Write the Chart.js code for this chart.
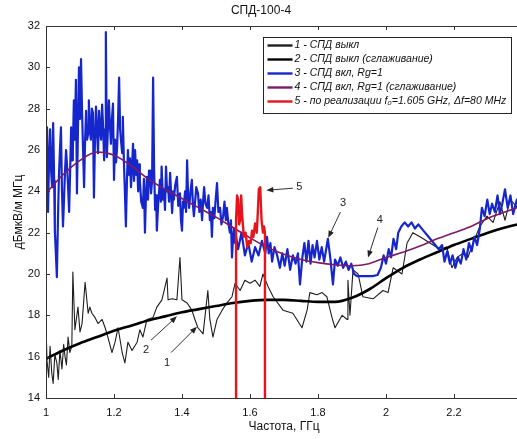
<!DOCTYPE html>
<html>
<head>
<meta charset="utf-8">
<title>СПД-100-4</title>
<script src="https://cdn.jsdelivr.net/npm/chart.js@4.4.1/dist/chart.umd.min.js"></script>
<style>
  html, body { margin: 0; padding: 0; background: #fff; overflow: hidden; }
  #wrap { width: 566px; height: 439px; }
</style>
</head>
<body>
<div id="wrap"><canvas id="spd-chart" width="566" height="439"></canvas></div>
<script>
// 1 - СПД выкл (raw)
const offFreq = [1.000, 1.003, 1.008, 1.012, 1.017, 1.021, 1.026, 1.032, 1.036, 1.041, 1.047, 1.052, 1.056, 1.060, 1.065, 1.070, 1.076,
    1.079, 1.085, 1.094, 1.100, 1.106, 1.115, 1.124, 1.129, 1.135, 1.144, 1.153, 1.165, 1.174, 1.182, 1.194, 1.203, 1.212, 1.224,
    1.232, 1.241, 1.253, 1.268, 1.276, 1.285, 1.297, 1.315, 1.326, 1.341, 1.356, 1.359, 1.371, 1.385, 1.394, 1.400, 1.415, 1.429,
    1.438, 1.447, 1.462, 1.476, 1.482, 1.491, 1.503, 1.518, 1.532, 1.547, 1.556, 1.571, 1.585, 1.600, 1.615, 1.629, 1.638, 1.653,
    1.668, 1.697, 1.726, 1.753, 1.768, 1.776, 1.797, 1.812, 1.826, 1.841, 1.850, 1.871, 1.886, 1.888, 1.894, 1.903, 1.918, 1.932,
    1.962, 1.991, 2.006, 2.021, 2.047, 2.062, 2.079, 2.100, 2.129, 2.159, 2.179, 2.194, 2.209, 2.226, 2.241, 2.256, 2.276, 2.297,
    2.315, 2.335, 2.350, 2.365, 2.385, 2.400];
const offVals = [17.5, 15.8, 15.0, 16.5, 15.2, 14.7, 16.1, 15.7, 14.9, 16.3, 15.4, 16.6, 16.0, 15.6, 16.95, 16.2, 16.5,
    20.1, 17.3, 18.4, 17.2, 17.6, 19.6, 18.1, 18.4, 18.1, 17.9, 17.6, 17.8, 17.4, 16.95, 16.2, 16.7, 17.4, 16.2,
    15.7, 16.7, 16.3, 16.7, 17.3, 16.95, 17.8, 17.9, 18.4, 18.75, 19.8, 18.75, 18.8, 18.75, 20.8, 18.75, 18.6, 18.25,
    17.8, 17.4, 17.1, 19.2, 17.8, 16.95, 17.8, 18.25, 18.6, 18.9, 19.55, 19.2, 19.7, 19.55, 19.7, 19.4, 20.0, 19.4,
    18.9, 18.25, 18.1, 17.4, 18.25, 19.1, 19.0, 19.1, 18.9, 17.9, 17.4, 18.0, 17.8, 19.7, 18.0, 20.2, 20.0, 18.9,
    18.8, 19.2, 19.1, 20.3, 20.0, 21.5, 22.0, 21.8, 21.5, 21.2, 21.3, 20.3, 20.8, 21.0, 20.8, 21.5, 22.3, 22.8,
    22.5, 23.5, 22.6, 23.6, 23.25, 23.0];

// 2 - СПД выкл (сглаживание)
const offSmoothFreq = [1.00, 1.05, 1.10, 1.15, 1.20, 1.25, 1.30, 1.35, 1.40, 1.45, 1.50, 1.55, 1.60, 1.65, 1.70,
    1.75, 1.80, 1.85, 1.90, 1.95, 2.00, 2.05, 2.10, 2.15, 2.20, 2.25, 2.30, 2.35, 2.40];
const offSmoothVals = [15.9, 16.3, 16.65, 16.95, 17.25, 17.5, 17.75, 17.95, 18.15, 18.3, 18.45, 18.6, 18.7, 18.75, 18.75,
    18.7, 18.65, 18.65, 18.85, 19.25, 19.8, 20.3, 20.7, 21.05, 21.4, 21.7, 22.0, 22.25, 22.45];

// 3 - СПД вкл, Rg=1 (raw)
const onFreq = [1.000, 1.003, 1.006, 1.009, 1.012, 1.015, 1.018, 1.021, 1.024, 1.026, 1.029, 1.032, 1.035, 1.038, 1.041,
    1.044, 1.047, 1.050, 1.053, 1.056, 1.059, 1.062, 1.065, 1.068, 1.071, 1.074, 1.077, 1.079, 1.082, 1.085, 1.088, 1.091,
    1.094, 1.097, 1.100, 1.103, 1.106, 1.109, 1.112, 1.115, 1.118, 1.121, 1.124, 1.126, 1.129, 1.132, 1.135, 1.138, 1.141,
    1.144, 1.147, 1.150, 1.153, 1.156, 1.159, 1.162, 1.165, 1.168, 1.171, 1.174, 1.176, 1.179, 1.182, 1.185, 1.188, 1.191,
    1.194, 1.197, 1.200, 1.203, 1.206, 1.209, 1.212, 1.215, 1.218, 1.221, 1.224, 1.226, 1.229, 1.232, 1.235, 1.238, 1.241,
    1.244, 1.247, 1.250, 1.253, 1.256, 1.259, 1.262, 1.265, 1.268, 1.271, 1.274, 1.276, 1.280, 1.285, 1.288, 1.291, 1.294,
    1.297, 1.300, 1.303, 1.306, 1.309, 1.312, 1.315, 1.318, 1.321, 1.324, 1.326, 1.330, 1.335, 1.338, 1.340, 1.344, 1.347,
    1.350, 1.353, 1.356, 1.359, 1.362, 1.365, 1.368, 1.371, 1.374, 1.376, 1.380, 1.385, 1.389, 1.394, 1.397, 1.400, 1.403,
    1.405, 1.409, 1.412, 1.415, 1.418, 1.421, 1.425, 1.429, 1.432, 1.435, 1.438, 1.442, 1.447, 1.451, 1.455, 1.459, 1.462,
    1.465, 1.469, 1.474, 1.478, 1.482, 1.485, 1.488, 1.491, 1.495, 1.499, 1.503, 1.507, 1.512, 1.516, 1.521, 1.525, 1.529,
    1.532, 1.536, 1.541, 1.544, 1.547, 1.550, 1.553, 1.556, 1.559, 1.565, 1.575, 1.585, 1.595, 1.605, 1.615, 1.625, 1.635,
    1.645, 1.650, 1.655, 1.660, 1.665, 1.672, 1.680, 1.688, 1.695, 1.702, 1.710, 1.718, 1.726, 1.734, 1.741, 1.747, 1.754,
    1.760, 1.766, 1.772, 1.778, 1.784, 1.790, 1.797, 1.804, 1.811, 1.818, 1.824, 1.829, 1.836, 1.844, 1.850, 1.858, 1.866,
    1.874, 1.882, 1.890, 1.898, 1.906, 1.915, 1.930, 1.945, 1.960, 1.975, 1.985, 1.993, 2.000, 2.008, 2.015, 2.022, 2.030,
    2.036, 2.045, 2.055, 2.065, 2.075, 2.085, 2.095, 2.110, 2.125, 2.140, 2.155, 2.165, 2.172, 2.180, 2.188, 2.196, 2.204,
    2.212, 2.220, 2.228, 2.236, 2.244, 2.252, 2.260, 2.268, 2.276, 2.282, 2.290, 2.298, 2.305, 2.312, 2.320, 2.328, 2.335,
    2.342, 2.350, 2.358, 2.366, 2.374, 2.385, 2.400];
const onVals = [25.2, 27.1, 23.0, 25.5, 27.0, 25.0, 24.2, 27.3, 24.5, 22.1, 21.0, 19.85, 22.5, 24.7, 26.0,
    27.1, 24.0, 22.3, 23.6, 25.0, 26.0, 25.2, 24.2, 23.0, 25.0, 27.1, 25.5, 26.0, 28.4, 26.5, 29.4, 23.9,
    27.0, 30.0, 27.5, 30.4, 27.9, 26.0, 24.2, 26.5, 27.9, 26.5, 26.8, 28.4, 27.0, 26.5, 28.0, 27.8, 23.7,
    26.5, 28.1, 26.9, 25.85, 27.9, 27.0, 26.5, 28.2, 27.1, 25.5, 27.0, 31.7, 25.65, 27.0, 28.4, 27.2, 26.3,
    27.5, 28.25, 24.55, 26.5, 25.4, 26.1, 27.5, 29.5, 27.0, 26.4, 25.85, 27.6, 25.5, 24.0, 22.3, 24.5, 26.0,
    24.8, 25.6, 24.2, 25.2, 26.3, 24.5, 26.0, 24.8, 25.5, 24.0, 25.3, 24.55, 23.5, 23.2, 24.6, 22.0, 23.8,
    24.7, 23.6, 25.0, 25.0, 23.9, 24.5, 29.5, 25.0, 23.1, 23.8, 22.1, 23.4, 24.55, 23.5, 25.2, 23.6, 24.1,
    23.1, 25.2, 24.0, 24.2, 23.5, 24.9, 23.9, 22.95, 24.0, 23.6, 24.3, 24.7, 23.3, 23.9, 22.6, 22.1, 23.5,
    23.2, 24.0, 23.0, 25.5, 23.8, 23.2, 24.0, 24.55, 23.4, 22.8, 23.4, 24.2, 23.9, 23.0, 23.6, 22.6, 23.5,
    24.2, 23.4, 23.2, 23.8, 22.6, 23.0, 21.8, 23.2, 22.7, 23.6, 24.4, 23.0, 23.2, 22.4, 22.8, 23.5, 22.6,
    23.2, 22.5, 22.0, 22.6, 20.8, 21.7, 22.2, 21.5, 21.8, 21.2, 22.0, 20.9, 21.5, 20.6, 21.3, 20.9, 21.6,
    21.0, 21.8, 21.0, 21.5, 20.6, 21.3, 20.9, 20.3, 21.0, 20.4, 21.2, 20.2, 20.9, 20.5, 21.0, 19.5, 20.8,
    21.5, 20.6, 21.6, 20.5, 21.4, 20.8, 21.6, 20.7, 21.3, 20.6, 21.2, 21.7, 20.8, 19.5, 20.7, 20.4, 20.8,
    20.3, 20.6, 20.2, 20.5, 20.0, 19.9, 19.9, 19.9, 19.9, 19.95, 20.3, 20.9, 20.5, 21.2, 20.8, 21.7, 21.2,
    22.0, 22.3, 22.5, 22.3, 22.5, 22.2, 22.4, 22.1, 21.8, 21.5, 21.2, 21.4, 20.6, 21.1, 20.5, 20.9, 20.3,
    20.8, 20.5, 21.2, 20.7, 21.5, 21.1, 21.8, 21.4, 22.2, 23.2, 22.8, 23.6, 22.9, 23.4, 23.0, 23.8, 22.9,
    23.4, 24.1, 23.2, 23.8, 22.9, 23.6, 23.2];

// 4 - СПД вкл, Rg=1 (сглаживание)
const onSmoothFreq = [1.00, 1.05, 1.10, 1.15, 1.20, 1.25, 1.30, 1.35, 1.40, 1.45, 1.50, 1.55, 1.60, 1.65, 1.70,
    1.75, 1.80, 1.85, 1.90, 1.95, 2.00, 2.05, 2.10, 2.15, 2.20, 2.25, 2.30, 2.35, 2.40];
const onSmoothVals = [23.9, 24.8, 25.5, 25.9, 25.75, 25.25, 24.6, 24.1, 23.65, 23.2, 22.75, 22.25, 21.75, 21.3, 20.95,
    20.7, 20.55, 20.45, 20.4, 20.5, 20.8, 21.05, 21.35, 21.7, 22.0, 22.3, 22.7, 23.0, 23.3];

// 5 - по реализации, f0 = 1.605 GHz, df = 80 MHz (window edges drop to the axis)
const windowFreq = [1.559, 1.559, 1.562, 1.565, 1.568, 1.571, 1.574, 1.577, 1.582, 1.587, 1.592, 1.597, 1.602,
    1.606, 1.610, 1.615, 1.620, 1.623, 1.626, 1.630, 1.634, 1.638, 1.641, 1.644, 1.644];
const windowVals = [14, 22.6, 23.8, 23.6, 22.4, 22.6, 23.8, 22.8, 21.8, 22.0, 21.3, 21.6, 21.5,
    22.1, 21.8, 22.45, 22.0, 23.0, 24.1, 24.2, 22.6, 22.0, 22.3, 22.0, 14];

const xTicks = [1, 1.2, 1.4, 1.6, 1.8, 2, 2.2];
const yTicks = [14, 16, 18, 20, 22, 24, 26, 28, 30, 32];

// numbered callouts: label position, arrow start, arrow tip (in data units)
const callouts = [
    { text: '1', at: [1.356, 15.7], from: [1.368, 16.2], to: [1.444, 17.45] },
    { text: '2', at: [1.294, 16.3], from: [1.309, 16.8], to: [1.385, 17.95] },
    { text: '3', at: [1.874, 23.45], from: [1.866, 23.0], to: [1.830, 21.75] },
    { text: '4', at: [1.982, 22.6], from: [1.976, 22.25], to: [1.947, 20.8] },
    { text: '5', at: [1.745, 24.2], from: [1.726, 24.15], to: [1.648, 24.05] }
];

function zip(xs, ys) {
    return xs.map((x, i) => ({ x: x, y: ys[i] }));
}

const FONT = '"Liberation Sans", Arial, sans-serif';

function drawArrow(ctx, x1, y1, x2, y2) {
    const a = Math.atan2(y2 - y1, x2 - x1);
    const len = 7, w = 2.8;
    ctx.beginPath();
    ctx.moveTo(x1, y1);
    ctx.lineTo(x2 - 4 * Math.cos(a), y2 - 4 * Math.sin(a));
    ctx.stroke();
    ctx.beginPath();
    ctx.moveTo(x2, y2);
    ctx.lineTo(x2 - len * Math.cos(a) + w * Math.sin(a), y2 - len * Math.sin(a) - w * Math.cos(a));
    ctx.lineTo(x2 - len * Math.cos(a) - w * Math.sin(a), y2 - len * Math.sin(a) + w * Math.cos(a));
    ctx.closePath();
    ctx.fill();
}

// frame with inward tick marks, matlab style
const framePlugin = {
    id: 'frame',
    afterDatasetsDraw(chart) {
        const { ctx, chartArea: ca, scales } = chart;
        ctx.save();
        ctx.strokeStyle = '#333';
        ctx.lineWidth = 1;
        ctx.strokeRect(Math.round(ca.left) + 0.5, Math.round(ca.top) + 0.5, ca.right - ca.left, ca.bottom - ca.top);
        ctx.beginPath();
        xTicks.forEach(v => {
            const px = Math.round(scales.x.getPixelForValue(v)) + 0.5;
            ctx.moveTo(px, ca.bottom); ctx.lineTo(px, ca.bottom - 4);
            ctx.moveTo(px, ca.top); ctx.lineTo(px, ca.top + 4);
        });
        yTicks.forEach(v => {
            const py = Math.round(scales.y.getPixelForValue(v)) + 0.5;
            ctx.moveTo(ca.left, py); ctx.lineTo(ca.left + 4, py);
        });
        ctx.stroke();
        ctx.restore();
    }
};

const calloutPlugin = {
    id: 'callouts',
    afterDatasetsDraw(chart) {
        const { ctx, scales } = chart;
        const px = p => [scales.x.getPixelForValue(p[0]), scales.y.getPixelForValue(p[1])];
        ctx.save();
        ctx.strokeStyle = '#333';
        ctx.fillStyle = '#222';
        ctx.lineWidth = 1;
        ctx.font = '11px ' + FONT;
        ctx.textAlign = 'center';
        ctx.textBaseline = 'middle';
        callouts.forEach(c => {
            const a = px(c.from), b = px(c.to), t = px(c.at);
            drawArrow(ctx, a[0], a[1], b[0], b[1]);
            ctx.fillText(c.text, t[0], t[1]);
        });
        ctx.restore();
    }
};

// boxed legend in the upper right of the plot
const boxLegendPlugin = {
    id: 'boxLegend',
    afterDraw(chart) {
        const { ctx, chartArea: ca } = chart;
        const x = Math.round(ca.left) + 217.5, y = Math.round(ca.top) + 11.5, w = 248, h = 76;
        ctx.save();
        ctx.fillStyle = '#fff';
        ctx.fillRect(x, y, w, h);
        ctx.strokeStyle = '#222';
        ctx.lineWidth = 1;
        ctx.strokeRect(x, y, w, h);
        ctx.font = 'italic 10.5px ' + FONT;
        ctx.textBaseline = 'middle';
        chart.data.datasets.forEach((ds, i) => {
            const ly = y + 8 + i * 14;
            ctx.strokeStyle = ds.borderColor;
            ctx.lineWidth = 2.4;
            ctx.beginPath();
            ctx.moveTo(x + 4, ly);
            ctx.lineTo(x + 29, ly);
            ctx.stroke();
            ctx.fillStyle = '#111';
            ctx.fillText(ds.label, x + 31, ly);
        });
        ctx.restore();
    }
};

new Chart(document.getElementById('spd-chart'), {
    type: 'line',
    data: {
        datasets: [
            {
                label: '1 - СПД выкл',
                data: zip(offFreq, offVals),
                borderColor: '#1e1e1e',
                borderWidth: 1.1,
                order: 4
            },
            {
                label: '2 - СПД выкл (сглаживание)',
                data: zip(offSmoothFreq, offSmoothVals),
                borderColor: '#000',
                borderWidth: 2.6,
                cubicInterpolationMode: 'monotone',
                order: 3
            },
            {
                label: '3 - СПД вкл, Rg=1',
                data: zip(onFreq, onVals),
                borderColor: 'rgb(22, 38, 205)',
                borderWidth: 2.2,
                order: 2
            },
            {
                label: '4 - СПД вкл, Rg=1 (сглаживание)',
                data: zip(onSmoothFreq, onSmoothVals),
                borderColor: 'rgb(125, 25, 105)',
                borderWidth: 1.6,
                cubicInterpolationMode: 'monotone',
                order: 1
            },
            {
                label: '5 - по реализации f₀=1.605 GHz, Δf=80 MHz',
                data: zip(windowFreq, windowVals),
                borderColor: 'rgb(232, 20, 28)',
                borderWidth: 2.4,
                order: 0
            }
        ]
    },
    options: {
        responsive: false,
        animation: false,
        events: [],
        elements: {
            point: { radius: 0 },
            line: { tension: 0, borderJoinStyle: 'round' }
        },
        layout: { padding: { left: 0, right: 44, top: 0, bottom: 0 } },
        plugins: {
            legend: { display: false },
            tooltip: { enabled: false },
            title: {
                display: true,
                text: 'СПД-100-4',
                color: '#111',
                font: { family: FONT, size: 12, weight: 'normal' },
                padding: { top: 3, bottom: 8.6 }
            }
        },
        scales: {
            x: {
                type: 'linear',
                min: 1,
                max: 2.4,
                afterFit: s => { s.height = 41; },
                afterBuildTicks: s => { s.ticks = xTicks.map(v => ({ value: v })); },
                grid: { display: false, drawTicks: false },
                border: { display: false },
                ticks: {
                    color: '#111',
                    padding: 8,
                    maxRotation: 0,
                    font: { family: FONT, size: 11 },
                    callback: v => String(Math.round(v * 10) / 10)
                },
                title: {
                    display: true,
                    text: 'Частота, ГГц',
                    color: '#111',
                    font: { family: FONT, size: 12 },
                    padding: { top: 0, bottom: 5 }
                }
            },
            y: {
                min: 14,
                max: 32,
                afterFit: s => { s.width = 46; },
                afterBuildTicks: s => { s.ticks = yTicks.map(v => ({ value: v })); },
                grid: { display: false, drawTicks: false },
                border: { display: false },
                ticks: {
                    color: '#111',
                    padding: 6,
                    font: { family: FONT, size: 11 }
                },
                title: {
                    display: true,
                    text: 'дБмкВ/м МГц',
                    color: '#111',
                    font: { family: FONT, size: 12 },
                    padding: { top: 11, bottom: 0 }
                }
            }
        }
    },
    plugins: [framePlugin, calloutPlugin, boxLegendPlugin]
});
</script>
</body>
</html>
